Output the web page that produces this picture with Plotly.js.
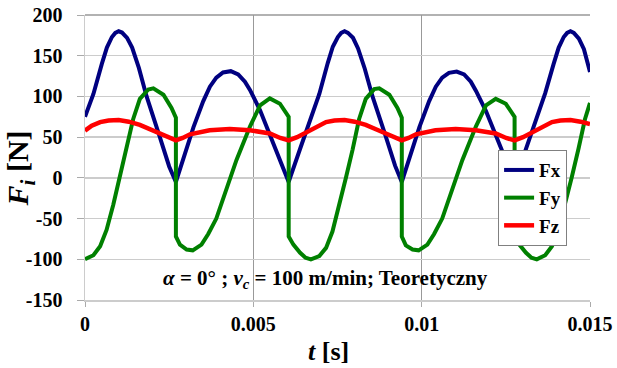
<!DOCTYPE html>
<html><head><meta charset="utf-8">
<script src="https://cdn.plot.ly/plotly-3.0.1.min.js"></script>
<style>html,body{margin:0;padding:0;background:#fff}</style>
</head><body>
<div id="chart" style="width:617px;height:368px"></div>
<script>
// Fx
const tFx = [0, 0.00025, 0.0005, 0.00065, 0.0008, 0.0009, 0.001, 0.0011, 0.00125, 0.0014, 0.0016, 0.00183, 0.00223, 0.0025, 0.0027, 0.00292, 0.00322, 0.00351, 0.00371, 0.0039, 0.0041, 0.00433, 0.00455, 0.00475, 0.0049, 0.0052, 0.00549, 0.00579, 0.00605, 0.0064,
  0.00671, 0.00696, 0.00721, 0.00736, 0.00751, 0.00761, 0.00771, 0.00781, 0.00796, 0.00811, 0.00831, 0.00854, 0.00894, 0.00921, 0.00941, 0.00963, 0.00993, 0.01022, 0.01042, 0.01061, 0.01081, 0.01104, 0.01126, 0.01146, 0.01161, 0.01191, 0.0122, 0.0125, 0.01276, 0.01311,
  0.01342, 0.01367, 0.01392, 0.01407, 0.01422, 0.01432, 0.01442, 0.01452, 0.01467, 0.01482, 0.015];
const fx = [75, 103, 140, 160, 173, 178, 180, 178.5, 172, 160, 135, 100, 49, 14, -5, 25, 62, 94, 112, 123, 129.5, 131, 127, 118, 108, 83, 54, 22, -5, 37,
  75, 103, 141, 161, 173, 178, 180, 178, 172, 159, 134, 100, 50, 15, -5, 25, 62, 94, 112, 123, 129, 130.5, 127, 118, 107, 82, 54, 22, -5, 37,
  75, 104, 140, 160, 173, 178, 180, 178, 171, 158, 130];
// Fy
const tFy = [0, 0.00025, 0.00045, 0.00064, 0.00084, 0.00104, 0.00124, 0.00143, 0.00163, 0.00188, 0.00203, 0.00233, 0.00257, 0.0027, 0.0027, 0.00282, 0.00302, 0.0032, 0.00346, 0.00366, 0.0039, 0.0041, 0.0043, 0.0045, 0.0049, 0.0052, 0.00549, 0.00579, 0.00605, 0.00605, 0.00619, 0.00639, 0.00655,
  0.00671, 0.00696, 0.00716, 0.00735, 0.00755, 0.00775, 0.00795, 0.00814, 0.00834, 0.00859, 0.00874, 0.00904, 0.00928, 0.00941, 0.00941, 0.00953, 0.00973, 0.00991, 0.01017, 0.01037, 0.01061, 0.01081, 0.01101, 0.01121, 0.01161, 0.01191, 0.0122, 0.0125, 0.01276, 0.01276, 0.0129, 0.0131, 0.01326,
  0.01342, 0.01367, 0.01387, 0.01406, 0.01426, 0.01446, 0.01466, 0.01485, 0.015];
const fy = [-100, -95, -84, -64, -33, 1, 36, 72, 97, 108.5, 110, 102, 86, 74, -72, -82, -88, -89, -82, -69, -50, -25, 0, 22, 63, 89, 97.5, 91, 75, -72, -82, -92, -98,
  -100, -96, -86, -66, -35, 0, 35, 72, 97, 109, 110, 102, 86, 74, -72, -83, -88, -89, -82, -69, -50, -25, 0, 22, 63, 89, 97, 91, 75, -72, -82, -92, -98,
  -100, -95, -84, -64, -33, 1, 36, 72, 92];
// Fz
const tFz = [0, 0.0002, 0.00045, 0.0007, 0.001, 0.0013, 0.00163, 0.002, 0.00223, 0.0025, 0.0027, 0.0029, 0.00312, 0.0037, 0.0043, 0.0049, 0.00549, 0.0058, 0.00605, 0.0063, 0.0065,
  0.00671, 0.00691, 0.00716, 0.00741, 0.00771, 0.00801, 0.00834, 0.00871, 0.00894, 0.00921, 0.00941, 0.00961, 0.00983, 0.01041, 0.01101, 0.01161, 0.0122, 0.01251, 0.01276, 0.01301, 0.01321,
  0.01342, 0.01362, 0.01387, 0.01412, 0.01442, 0.01472, 0.015];
const fz = [58, 64, 68.5, 70.5, 71, 69, 65, 58.5, 54, 48.5, 46, 49, 53.5, 58.5, 60, 58.5, 54.5, 49, 46, 50, 54.5,
  58, 64, 68.5, 70.5, 71, 69, 65, 58.5, 54, 48.5, 46, 49, 53.5, 58.5, 60, 58.5, 54.5, 49, 46, 50, 54.5,
  58, 64, 68.5, 70.5, 71, 69, 66];

const seriesNames = ['Fx', 'Fy', 'Fz'];
const seriesColors = ['#000080', '#008000', '#ff0000'];
const xTickVals = [0, 0.005, 0.01, 0.015];
const xTickText = ['0', '0.005', '0.01', '0.015'];
const yTickVals = [-150, -100, -50, 0, 50, 100, 150, 200];
const yTickText = ['-150', '-100', '-50', '0', '50', '100', '150', '200'];

const SERIF = '"Liberation Serif", serif';
const xs = [tFx, tFy, tFz];
const ys = [fx, fy, fz];
const widths = [4, 4, 4.5];
const bold = s => '<b>' + s + '</b>';

const data = seriesNames.map((n, i) => ({
  x: xs[i], y: ys[i], name: n, type: 'scatter', mode: 'lines',
  line: {color: seriesColors[i], width: widths[i], shape: 'linear'}
}));

const layout = {
  width: 617, height: 368,
  margin: {l: 85, r: 27, t: 15, b: 68},
  paper_bgcolor: '#ffffff', plot_bgcolor: '#ffffff',
  font: {family: SERIF, color: '#000'},
  showlegend: true,
  legend: {
    x: 0.818, y: 0.526, xanchor: 'left', yanchor: 'top',
    bgcolor: '#ffffff', bordercolor: '#808080', borderwidth: 1,
    font: {family: SERIF, size: 19, color: '#000', weight: 'bold'},
    tracegroupgap: 0
  },
  xaxis: {
    range: [0, 0.015], tickvals: xTickVals, ticktext: xTickText.map(bold),
    showgrid: true, gridcolor: '#999999', gridwidth: 1,
    zeroline: false, showline: true, linecolor: '#cccccc', linewidth: 1.5,
    ticks: 'outside', ticklen: 5, tickcolor: '#aaaaaa',
    tickfont: {family: SERIF, size: 20, color: '#000'}
  },
  yaxis: {
    range: [-150, 200], tickvals: yTickVals, ticktext: yTickText.map(s => bold(s) + '\u2002'),
    showgrid: true, gridcolor: '#cccccc', gridwidth: 1.5,
    zeroline: false, showline: true, linecolor: '#cccccc', linewidth: 1.5,
    ticks: 'outside', ticklen: 7, tickcolor: '#aaaaaa',
    tickfont: {family: SERIF, size: 20, color: '#000'}
  },
  shapes: [
    {type: 'line', xref: 'paper', yref: 'paper', x0: 0, x1: 1, y0: 1, y1: 1, line: {color: '#999999', width: 1.5}, layer: 'below'}
  ],
  annotations: [
    {text: '<b><i>F<sub>i</sub></i> [N]</b>', xref: 'paper', yref: 'paper', x: -0.128, y: 0.463,
     xanchor: 'center', yanchor: 'middle', textangle: -90, showarrow: false,
     font: {family: SERIF, size: 30, color: '#000'}},
    {text: '<b><i>t</i> [s]</b>', xref: 'paper', yref: 'paper', x: 0.483, y: -0.182,
     xanchor: 'center', yanchor: 'middle', showarrow: false,
     font: {family: SERIF, size: 26, color: '#000'}},
    {text: '<b><i>α</i> = 0° ; <i>v<sub>c</sub></i> = 100 m/min; Teoretyczny</b>', xref: 'paper', yref: 'paper', x: 0.477, y: 0.074,
     xanchor: 'center', yanchor: 'middle', showarrow: false,
     font: {family: SERIF, size: 21, color: '#000'}}
  ]
};

Plotly.newPlot('chart', data, layout, {staticPlot: true, displayModeBar: false});
</script>
</body></html>
